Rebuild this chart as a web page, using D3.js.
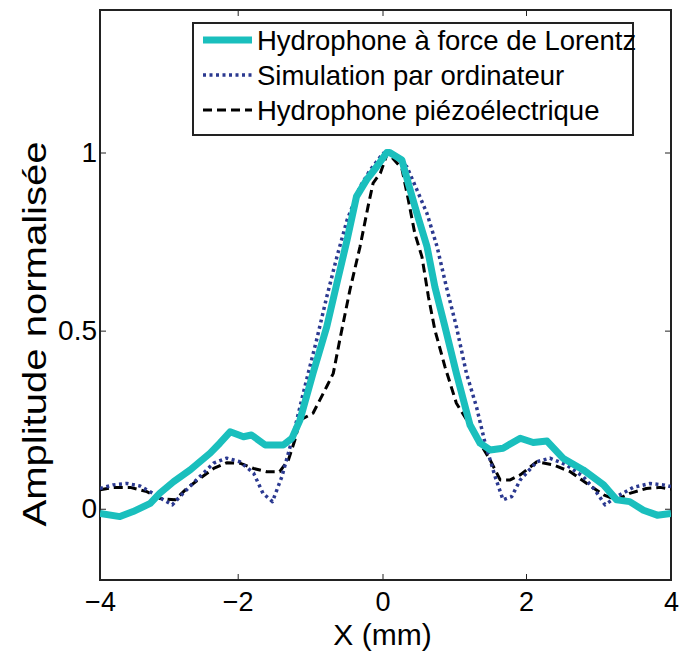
<!DOCTYPE html>
<html>
<head>
<meta charset="utf-8">
<script src="https://cdn.jsdelivr.net/npm/d3@7"></script>
<style>
  body { margin: 0; background: #fff; }
  text { font-family: "Liberation Sans", Arial, sans-serif; fill: #000; }
</style>
</head>
<body>
<div id="chart"></div>
<script>
// series values (x in mm, y normalised amplitude)
const lorentzX = [-4.0,-3.71,-3.52,-3.27,-3.13,-2.93,-2.69,-2.40,-2.26,-2.11,-1.92,-1.81,-1.62,-1.37,-1.25,-1.14,-0.96,-0.77,-0.63,-0.49,-0.36,-0.22,-0.08,0.06,0.10,0.27,0.36,0.48,0.62,0.73,0.87,1.03,1.22,1.36,1.50,1.68,1.92,2.10,2.29,2.51,2.79,3.07,3.25,3.43,3.62,3.81,4.0];
const lorentzY = [-0.013,-0.022,-0.008,0.015,0.044,0.076,0.109,0.156,0.184,0.216,0.202,0.207,0.179,0.179,0.198,0.249,0.380,0.511,0.633,0.754,0.876,0.923,0.960,1.0,1.0,0.979,0.913,0.829,0.736,0.623,0.511,0.380,0.235,0.184,0.165,0.170,0.198,0.186,0.190,0.142,0.109,0.067,0.025,0.020,-0.004,-0.018,-0.013];

const simX = [-4.0,-3.81,-3.61,-3.42,-3.23,-3.08,-2.95,-2.84,-2.60,-2.35,-2.16,-1.97,-1.78,-1.65,-1.52,-1.39,-1.25,-1.14,-1.05,-0.91,-0.77,-0.63,-0.49,-0.31,-0.17,-0.03,0.01,0.15,0.34,0.48,0.62,0.76,0.89,1.03,1.17,1.31,1.43,1.57,1.68,1.80,1.92,2.15,2.33,2.56,2.79,2.95,3.09,3.25,3.48,3.71,3.89,4.0];
const simY = [0.057,0.067,0.071,0.064,0.043,0.025,0.011,0.034,0.081,0.128,0.142,0.132,0.100,0.043,0.020,0.090,0.193,0.286,0.361,0.474,0.595,0.707,0.810,0.904,0.951,0.988,0.998,0.993,0.960,0.895,0.829,0.736,0.623,0.511,0.380,0.286,0.184,0.090,0.025,0.034,0.081,0.132,0.142,0.123,0.090,0.053,0.011,0.034,0.060,0.071,0.067,0.062];

const piezoX = [-4.0,-3.81,-3.56,-3.32,-3.13,-2.91,-2.74,-2.55,-2.35,-2.16,-1.97,-1.78,-1.60,-1.42,-1.30,-1.21,-1.14,-0.96,-0.77,-0.68,-0.59,-0.45,-0.31,-0.20,-0.13,-0.03,0.06,0.08,0.27,0.36,0.45,0.55,0.64,0.73,0.87,1.03,1.22,1.36,1.50,1.64,1.78,1.92,2.15,2.38,2.61,2.84,3.07,3.25,3.43,3.66,3.85,4.0];
const piezoY = [0.053,0.060,0.060,0.048,0.029,0.025,0.057,0.085,0.113,0.129,0.128,0.113,0.104,0.104,0.137,0.193,0.249,0.268,0.343,0.380,0.474,0.614,0.736,0.848,0.914,0.942,0.993,0.998,0.955,0.867,0.773,0.707,0.595,0.502,0.399,0.296,0.235,0.184,0.137,0.081,0.081,0.095,0.132,0.123,0.104,0.071,0.039,0.025,0.043,0.057,0.060,0.055];

const xTicks = [-4, -2, 0, 2, 4];
const yTicks = [0, 0.5, 1];
const seriesNames = ["Hydrophone à force de Lorentz", "Simulation par ordinateur", "Hydrophone piézoélectrique"];

const width = 680, height = 652;
const margin = { top: 10, right: 9, bottom: 72, left: 100 };
const innerW = width - margin.left - margin.right;
const innerH = height - margin.top - margin.bottom;

const svg = d3.select("#chart").append("svg")
  .attr("width", width)
  .attr("height", height);

const g = svg.append("g")
  .attr("transform", `translate(${margin.left},${margin.top})`);

// the picture's x axis is slightly uneven between ticks, so follow it piecewise
const x = d3.scaleLinear()
  .domain([-4, -2, 0, 2, 4])
  .range([0, 137.7, 282.5, 426, innerW]);
const y = d3.scaleLinear().domain([-0.2, 1.4]).range([innerH, 0]);

g.append("clipPath").attr("id", "clip")
  .append("rect").attr("width", innerW).attr("height", innerH);

// ticks point inward on all four sides, labels only on left/bottom
const tickLen = 6;
const xAxis = g.append("g")
  .attr("transform", `translate(0,${innerH})`)
  .call(d3.axisBottom(x).tickValues(xTicks).tickSize(-tickLen).tickPadding(12).tickFormat(d3.format("d")));
const yAxis = g.append("g")
  .call(d3.axisLeft(y).tickValues(yTicks).tickSize(-tickLen).tickPadding(3).tickFormat(d => d));
g.append("g")
  .call(d3.axisTop(x).tickValues(xTicks).tickSize(-tickLen).tickFormat(""));
g.append("g")
  .attr("transform", `translate(${innerW},0)`)
  .call(d3.axisRight(y).tickValues(yTicks).tickSize(-tickLen).tickFormat(""));

g.selectAll(".domain").remove();
g.selectAll(".tick line").attr("stroke", "#222").attr("stroke-width", 1);
xAxis.selectAll("text").style("font-size", "27px").attr("dy", "0.71em");
yAxis.selectAll("text").style("font-size", "28px");

g.append("rect")
  .attr("width", innerW)
  .attr("height", innerH)
  .attr("fill", "none")
  .attr("stroke", "#222")
  .attr("stroke-width", 2);

const line = d3.line()
  .x(d => x(d[0]))
  .y(d => y(d[1]));

const lines = [
  { xs: piezoX, ys: piezoY, color: "#000", width: 3, dash: "9,5" },
  { xs: simX, ys: simY, color: "#2b3990", width: 3.5, dash: "3,3.5" },
  { xs: lorentzX, ys: lorentzY, color: "#1abfbd", width: 7, dash: null }
];

const plot = g.append("g").attr("clip-path", "url(#clip)");
lines.forEach(s => {
  plot.append("path")
    .datum(s.xs.map((v, i) => [v, s.ys[i]]))
    .attr("fill", "none")
    .attr("stroke", s.color)
    .attr("stroke-width", s.width)
    .attr("stroke-dasharray", s.dash)
    .attr("stroke-linejoin", "round")
    .attr("d", line);
});

// legend
const legend = g.append("g").attr("transform", "translate(93,13)");
legend.append("rect")
  .attr("width", 440)
  .attr("height", 112)
  .attr("fill", "#fff")
  .attr("stroke", "#222")
  .attr("stroke-width", 2);

const legendStyles = [lines[2], lines[1], lines[0]];
seriesNames.forEach((name, i) => {
  const ly = 17 + i * 35;
  const s = legendStyles[i];
  legend.append("line")
    .attr("x1", 10).attr("x2", 59)
    .attr("y1", ly).attr("y2", ly)
    .attr("stroke", s.color)
    .attr("stroke-width", s.width)
    .attr("stroke-dasharray", s.dash);
  legend.append("text")
    .attr("x", 64)
    .attr("y", ly)
    .attr("dy", "0.35em")
    .style("font-size", "27.5px")
    .text(name);
});

// axis titles
svg.append("text")
  .attr("x", margin.left + x(0))
  .attr("y", 645)
  .attr("text-anchor", "middle")
  .style("font-size", "30px")
  .text("X (mm)");

svg.append("text")
  .attr("transform", `translate(46,334) rotate(-90)`)
  .attr("text-anchor", "middle")
  .attr("textLength", 385)
  .attr("lengthAdjust", "spacingAndGlyphs")
  .style("font-size", "34px")
  .text("Amplitude normalisée");
</script>
</body>
</html>
